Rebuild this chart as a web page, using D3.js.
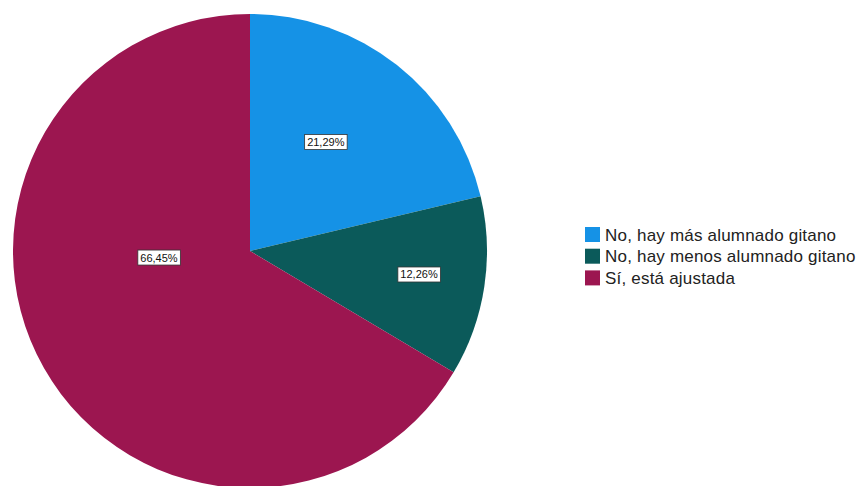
<!DOCTYPE html>
<html>
<head>
<meta charset="utf-8">
<script src="https://cdn.jsdelivr.net/npm/d3@7"></script>
<style>
  html, body { margin: 0; padding: 0; background: #fff; }
  svg { display: block; }
</style>
</head>
<body>
<svg id="chart" width="857" height="486"></svg>
<script>
// Categories and their shares (%)
const categories = ["No, hay más alumnado gitano", "No, hay menos alumnado gitano", "Sí, está ajustada"];
const values = [21.29, 12.26, 66.45];
const colors = ["#1592e6", "#0b5a5a", "#9c1650"];
// Label placement inside each slice: [angle offset from slice middle (deg), fraction of radius]
const labelAngleOffset = [-3.5, -0.8, 25.5];
const labelRadiusFrac = [0.56, 0.72, 0.385];

const svg = d3.select("#chart");
const cx = 250, cy = 251, radius = 237;

const pie = d3.pie().sort(null).value(d => d)(values);
const arc = d3.arc().innerRadius(0).outerRadius(radius);

const g = svg.append("g").attr("transform", `translate(${cx},${cy})`);

g.selectAll("path.slice")
  .data(pie)
  .join("path")
  .attr("class", "slice")
  .attr("d", arc)
  .attr("fill", (d, i) => colors[i]);

const fmt = v => v.toFixed(2).replace(".", ",") + "%";

pie.forEach((d, i) => {
  const mid = (d.startAngle + d.endAngle) / 2 + labelAngleOffset[i] * Math.PI / 180;
  const r = radius * labelRadiusFrac[i];
  const x = Math.sin(mid) * r, y = -Math.cos(mid) * r;
  const lg = g.append("g").attr("transform", `translate(${x},${y})`);
  const t = lg.append("text")
    .attr("text-anchor", "middle")
    .attr("dy", "0.36em")
    .attr("font-family", "Liberation Sans, Arial, sans-serif")
    .attr("font-size", 11)
    .attr("fill", "#111")
    .text(fmt(values[i]));
  const bb = t.node().getBBox();
  lg.insert("rect", "text")
    .attr("x", bb.x - 2.5)
    .attr("y", -7.5)
    .attr("width", bb.width + 5)
    .attr("height", 15)
    .attr("fill", "#fff")
    .attr("stroke", "#333")
    .attr("stroke-width", 0.8);
});

// Legend
const legend = svg.append("g").attr("transform", "translate(585,227)");
const rowH = 21.7;
categories.forEach((c, i) => {
  const row = legend.append("g").attr("transform", `translate(0,${i * rowH})`);
  row.append("rect")
    .attr("width", 15).attr("height", 15)
    .attr("fill", colors[i]);
  row.append("text")
    .attr("x", 20).attr("y", 7.5).attr("dy", "0.36em")
    .attr("font-family", "Liberation Sans, Arial, sans-serif")
    .attr("font-size", 17)
    .attr("letter-spacing", 0.2)
    .attr("fill", "#222")
    .text(c);
});
</script>
</body>
</html>
